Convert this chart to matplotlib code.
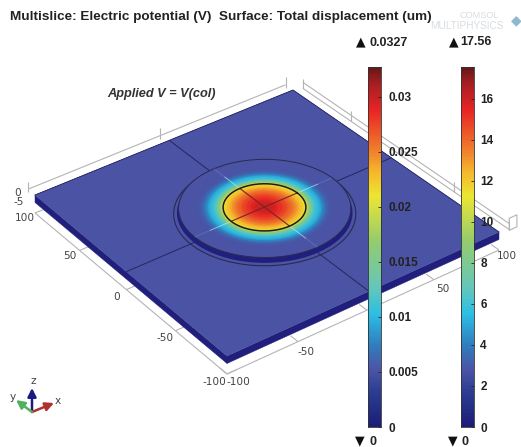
import numpy as np
import matplotlib
matplotlib.use("Agg")
import matplotlib.pyplot as plt
from matplotlib.colors import LinearSegmentedColormap, Normalize
from matplotlib.patches import Polygon

W, H = 521, 447
SANS = ["Liberation Sans", "DejaVu Sans"]

# ---- data ----
title = "Multislice: Electric potential (V)  Surface: Total displacement (um)"
annotation = "Applied V = V(col)"
potential_max = 0.0327
potential_ticks = [0, 0.005, 0.01, 0.015, 0.02, 0.025, 0.03]
potential_labels = ["0", "0.005", "0.01", "0.015", "0.02", "0.025", "0.03"]
displacement_max = 17.56
displacement_ticks = [0, 2, 4, 6, 8, 10, 12, 14, 16]
y_axis_ticks = [100, 50, 0, -50, -100]
x_axis_ticks = [-100, -50, 0, 50, 100]
plate_half = 100
plate_thickness = 5
plate_potential = 0.0052
# radial potential profile of the top surface
profile_r = [0, 4, 8, 14, 18, 21, 24, 25, 27, 29, 31, 33, 35, 37, 39, 41]
profile_v = [0.0300, 0.0298, 0.0288, 0.0268, 0.0250, 0.0232, 0.0215, 0.0205, 0.0165, 0.0130,
             0.0108, 0.0098, 0.0080, 0.0065, 0.0056, 0.0052]
inner_radius = 25
disc_radius = 52
base_radius = 55
disc_height = 3.5
disc_center_x = 1.5

cmap_stops = [(0, "#1c1c78"), (0.003, "#2a3c90"), (0.0052, "#4c54a5"), (0.0075, "#2f7fc0"),
              (0.0103, "#2cc0e4"), (0.0125, "#62c6bc"), (0.017, "#96cc6c"), (0.021, "#ece632"),
              (0.0233, "#f6b42c"), (0.0249, "#f0862c"), (0.0288, "#e82424"), (0.0312, "#a81e22"),
              (0.0327, "#641818")]
cmap = LinearSegmentedColormap.from_list("rainbow_comsol", [(v / potential_max, c) for v, c in cmap_stops])
norm = Normalize(0, potential_max)

# ---- projection of model coordinates to the picture ----
src = np.array([[-100, 100], [100, 100], [100, -100], [-100, -100]], float)
dst = np.array([[35, 195], [293, 90], [499, 232], [227, 356]], float)
A, b = [], []
for (x, y), (u, v) in zip(src, dst):
    A.append([x, y, 1, 0, 0, 0, -u * x, -u * y]); b.append(u)
    A.append([0, 0, 0, x, y, 1, -v * x, -v * y]); b.append(v)
hm = np.append(np.linalg.solve(np.array(A), np.array(b)), 1).reshape(3, 3)
Z_PX = 1.5

def project(x, y, z=0.0):
    x, y = np.asarray(x, float), np.asarray(y, float)
    w = hm[2, 0] * x + hm[2, 1] * y + hm[2, 2]
    return (hm[0, 0] * x + hm[0, 1] * y + hm[0, 2]) / w, (hm[1, 0] * x + hm[1, 1] * y + hm[1, 2]) / w - np.asarray(z) * Z_PX

def circle(r, z=0.0, n=240):
    t = np.linspace(0, 2 * np.pi, n)
    return project(disc_center_x + r * np.cos(t), r * np.sin(t), z)

fig = plt.figure(figsize=(W / 100, H / 100), dpi=100, facecolor="white")
ax = fig.add_axes([0, 0, 1, 1])
ax.set_xlim(0, W); ax.set_ylim(H, 0); ax.axis("off")

plate_color = cmap(norm(plate_potential))
side_color = "#20207c"
grey = "#b4b4b4"
P = plate_half

def line(xs, ys, zs=0.0, **kw):
    px, py = project(np.array(xs, float), np.array(ys, float), zs)
    ax.plot(px, py, solid_capstyle="butt", **kw)

# axis frame
AZ = -12
line([-P, -P], [P, -P], AZ, color=grey, lw=0.8, zorder=1)
line([-P, P], [-P, -P], AZ, color=grey, lw=0.8, zorder=1)
line([-P, P], [P + 8, P + 8], 0, color=grey, lw=0.8, zorder=1)
for zv in (-1.5, 2.5):
    line([P + 8, P + 8], [P, -P], zv, color=grey, lw=0.8, zorder=1)
for t in y_axis_ticks:
    line([-P, -P + 7], [t, t], AZ, color=grey, lw=0.8, zorder=1)
for t in x_axis_ticks:
    line([t, t], [-P, -P + 7], AZ, color=grey, lw=0.8, zorder=1)
for t in [-100, 0, 100]:
    line([t, t], [P + 8, P + 8], [-2, 5], color=grey, lw=0.8, zorder=1)
for t in [100, 50, 0, -50, -100]:
    line([P + 8, P + 8], [t, t], [-1.5, 5], color=grey, lw=0.8, zorder=1)
line([P + 8, P + 8, P + 14, P + 14, P + 8], [-P, -P, -P, -P, -P], [-2, 6, 6, -2, -2], color=grey, lw=0.8, zorder=1)

# plate
def face(xs, ys, zs, color, z):
    px, py = project(np.array(xs, float), np.array(ys, float), np.array(zs, float))
    ax.add_patch(Polygon(np.c_[px, py], closed=True, fc=color, ec=color, lw=0.3, zorder=z))

T = plate_thickness
face([-P, -P, -P, -P], [P, -P, -P, P], [0, 0, -T, -T], side_color, 2)
face([-P, P, P, -P], [-P, -P, -P, -P], [0, 0, -T, -T], side_color, 2)
face([-P, P, P, -P], [P, P, -P, -P], [0, 0, 0, 0], plate_color, 3)
px, py = project([-P, P, P, -P, -P], [P, P, -P, -P, P])
ax.plot(px[:3], py[:3], color="#20205c", lw=0.6, zorder=3.1)

# grid lines crossing the plate
line([-P, P], [0, 0], 0, color="#26265e", lw=0.7, zorder=3.2)
line([disc_center_x, disc_center_x], [P, -P], 0, color="#26265e", lw=0.7, zorder=3.2)

# disc: base ring, side and top
bx, by = circle(base_radius, 0)
ax.plot(bx, by, color="#2a2a50", lw=0.8, zorder=3.3)
sx, sy = circle(disc_radius + 1, 0.6)
ax.fill(sx, sy, color=side_color, lw=0, zorder=3.4)
tx, ty = circle(disc_radius, disc_height)
ax.fill(tx, ty, color=plate_color, lw=0, zorder=3.5)
ax.plot(tx, ty, color="#2a2a50", lw=0.7, zorder=3.6)

# potential on the disc, one ring per profile value
theta = np.linspace(0, 2 * np.pi, 181)
R, TH = np.meshgrid(np.array(profile_r, float), theta)
C = np.tile(np.array(profile_v), (theta.size, 1))
FX, FY = project(disc_center_x + R * np.cos(TH), R * np.sin(TH), disc_height)
ax.pcolormesh(FX, FY, C, cmap=cmap, norm=norm, shading="gouraud", zorder=3.7, rasterized=True)

# grid lines seen through the disc
cx = disc_center_x
for dirx, diry in [(1, 0), (0, 1)]:
    for sgn in (-1, 1):
        line([cx + sgn * dirx * inner_radius, cx + sgn * dirx * 41], [sgn * diry * inner_radius, sgn * diry * 41],
             disc_height, color="#bfe8f5", lw=0.7, alpha=0.65, zorder=3.8)
        line([cx + sgn * dirx * 41, cx + sgn * dirx * disc_radius], [sgn * diry * 41, sgn * diry * disc_radius],
             disc_height, color="#5a74c0", lw=0.7, alpha=0.8, zorder=3.8)
    line([cx - dirx * inner_radius, cx + dirx * inner_radius], [-diry * inner_radius, diry * inner_radius],
         disc_height, color="#7a2424", lw=0.8, zorder=3.8)
ix, iy = circle(inner_radius, disc_height)
ax.plot(ix, iy, color="#1c1c20", lw=1.1, zorder=3.9)

# tick labels of the 3D axes
lab = dict(fontsize=7.6, color="#444444", family="DejaVu Sans", ha="center", va="center", zorder=2)
for t, (dx, dy) in zip(y_axis_ticks, [(-10, 5), (-10, 6), (-10, 7), (-10, 7), (-13, 8)]):
    px, py = project(-P, t, AZ)
    ax.text(px + dx, py + dy, str(t), **lab)
for t, (dx, dy) in zip(x_axis_ticks, [(11, 8), (8, 10), (10, 9), (9, 9), (8, 6)]):
    px, py = project(t, -P, AZ)
    ax.text(px + dx, py + dy, str(t), **lab)
ax.text(18, 193, "0", **lab)
ax.text(19, 202, "-5", **lab)

# text
ax.text(10, 17, title, family=SANS, fontsize=9.7, fontweight="bold", color="#222222", va="center", ha="left")
ax.text(107, 94, annotation, family=SANS, fontsize=9.2, fontweight="bold", style="italic", color="#333333", va="center")
ax.text(460, 15, "COMSOL", family=SANS, fontsize=6.6, color="#d8dde2", va="center")
ax.text(430, 26, "MULTIPHYSICS", family=SANS, fontsize=7.2, color="#d8dde2", va="center")
ax.text(516, 20, "\u25c6", family="DejaVu Sans", fontsize=10, color="#8fb8d0", va="center", ha="center")

tri = dict(family="DejaVu Sans", fontsize=9, color="#111111", va="center", ha="center")
num = dict(family=SANS, fontsize=9, fontweight="bold", color="#222222", va="center", ha="left")
ax.text(361, 42, "\u25b2", **tri); ax.text(370, 43, f"{potential_max}", **num)
ax.text(454, 42, "\u25b2", **tri); ax.text(460, 42, f"{displacement_max}", **num)
ax.text(360, 441, "\u25bc", **tri); ax.text(369, 442, "0", **num)
ax.text(453, 441, "\u25bc", **tri); ax.text(462, 442, "0", **num)

# triad
ox, oy = 32, 412
for (ex, ey), col, tip in [((32, 388), "#1a1a80", "z"), ((54, 403), "#b03030", "x"), ((16, 400), "#50b060", "y")]:
    ax.annotate("", xy=(ex, ey), xytext=(ox, oy),
                arrowprops=dict(arrowstyle="-|>,head_width=0.25,head_length=0.5", color=col, lw=1.8, shrinkA=0, shrinkB=0))
for (tx_, ty_), s in [((33, 381), "z"), ((58, 401), "x"), ((13, 397), "y")]:
    ax.text(tx_, ty_, s, fontsize=7.6, color="#444444", family="DejaVu Sans", ha="center", va="center")

# colour bars
def colorbar(x0, vmax, ticks, labels, pad):
    bx_ = fig.add_axes([x0 / W, 1 - 427 / H, 13 / W, 360 / H], zorder=5)
    edges = np.linspace(0, vmax, 257)
    vals = (edges[:-1] + edges[1:]) / 2
    bx_.pcolormesh([0, 1], edges, (vals / vmax)[:, None], cmap=cmap, vmin=0, vmax=1)
    bx_.set_xlim(0, 1); bx_.set_ylim(0, vmax)
    bx_.set_xticks([])
    bx_.yaxis.tick_right()
    bx_.set_yticks(ticks, labels)
    bx_.tick_params(axis="y", direction="in", length=2, width=0.6, color="#222222", pad=pad, labelcolor="#222222")
    for t_ in bx_.get_yticklabels():
        t_.set_family(SANS); t_.set_fontweight("bold"); t_.set_fontsize(8.5)
    for s_ in bx_.spines.values():
        s_.set_linewidth(0.6); s_.set_color("#333333")

colorbar(368, potential_max, potential_ticks, potential_labels, 5.5)
colorbar(461, displacement_max, displacement_ticks, [str(t) for t in displacement_ticks], 4.5)

fig.savefig("out.png", dpi=100)
